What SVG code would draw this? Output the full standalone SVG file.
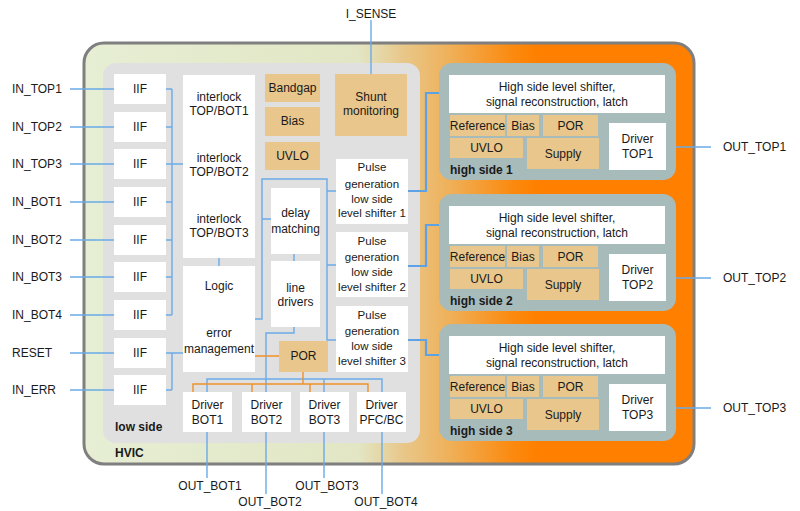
<svg xmlns="http://www.w3.org/2000/svg" width="800" height="511" viewBox="0 0 800 511">
<defs>
<linearGradient id="hvicGrad" x1="83" y1="0" x2="695" y2="0" gradientUnits="userSpaceOnUse">
<stop offset="0" stop-color="#e6eed4"/>
<stop offset="0.45" stop-color="#e2e6c4"/>
<stop offset="0.52" stop-color="#e8c88c"/>
<stop offset="0.6" stop-color="#efb058"/>
<stop offset="0.7" stop-color="#fb8a10"/>
<stop offset="0.74" stop-color="#ff8000"/>
<stop offset="1" stop-color="#ff8000"/>
</linearGradient>
<g id="hs">
<rect class="hsp" x="0" y="0" width="237" height="117" rx="13"/>
<rect class="wb" x="10" y="12" width="216" height="38"/>
<rect class="tan" x="11" y="52" width="55" height="21"/>
<rect class="tan" x="68" y="52" width="32" height="21"/>
<rect class="tan" x="104" y="52" width="55" height="21"/>
<rect class="tan" x="11" y="75" width="73" height="20"/>
<rect class="tan" x="88" y="75" width="72" height="31"/>
<rect class="wb" x="170" y="60" width="57" height="47"/>
<text class="t" x="118" y="28" font-size="11.5">High side level shifter,</text>
<text class="t" x="118" y="43" font-size="11.5">signal reconstruction, latch</text>
<text class="t" x="38.5" y="66.5" font-size="10">Reference</text>
<text class="t" x="84" y="67">Bias</text>
<text class="t" x="131.5" y="67">POR</text>
<text class="t" x="47.5" y="89">UVLO</text>
<text class="t" x="124" y="95">Supply</text>
</g>
</defs>
<style>
text{font-family:"Liberation Sans",Arial,sans-serif;font-size:12px;fill:#1a1a1a}
.t{text-anchor:middle}
.b{font-weight:bold}
.pg{font-size:11.5px}
.wb{fill:#ffffff}
.tan{fill:#e8c68c}
.hsp{fill:#a7bbbb}
.bl{fill:none;stroke:#6aaae8;stroke-width:1.4}
.bl2{fill:none;stroke:#5ea2e6;stroke-width:2.2}
.or{fill:none;stroke:#f0902a;stroke-width:1.4}
</style>
<rect width="800" height="511" fill="#ffffff"/>
<g id="hvic">
<rect x="84" y="43" width="610" height="421" rx="20" fill="url(#hvicGrad)" stroke="#7f7f7f" stroke-width="3"/>
<text class="b" x="115" y="457">HVIC</text>
</g>
<g id="lowside">
<rect x="103" y="63" width="317" height="380" rx="13" fill="#e0e0e0"/>
<text class="b" x="115" y="431">low side</text>
</g>
<g id="connectors">
<path class="bl" d="M70 89H114M70 127H114M70 164H114M70 202H114M70 240H114M70 277H114M70 315H114M70 353H114M70 390H114"/>
<path class="bl" d="M166 89H172M166 127H172M166 164H183M166 202H172M166 240H172M166 277H172M166 315H172M172 89V315"/>
<path class="bl" d="M166 353H183M166 390H172M172 353V390"/>
<path class="bl" d="M219 258V266"/>
<path class="bl" d="M255 319H262V179H327V340H336M327 191H336M327 265H336M262 219H271"/>
<path class="bl" d="M294 254V261"/>
<path class="bl" d="M294 327V333H266V392"/>
<path class="bl" d="M207 392V379H382V392M324 379V392"/>
<path class="bl" d="M207 432V478M266 432V494M324 432V478M382 432V494"/>
<path class="bl" d="M371 20V74"/>
<path class="or" d="M255 356H279M303 372V384M193 392V384H368V392M252 384V392M310 384V392"/>
<path class="bl2" d="M408 191H426V93H449M408 266H426V225H449M408 340H426V355H449"/>
<path class="bl" d="M666 147H711M666 278H711M666 408H711"/>
</g>
<g id="inputs">
<text x="12" y="93">IN_TOP1</text>
<text x="12" y="131">IN_TOP2</text>
<text x="12" y="168">IN_TOP3</text>
<text x="12" y="206">IN_BOT1</text>
<text x="12" y="244">IN_BOT2</text>
<text x="12" y="281">IN_BOT3</text>
<text x="12" y="319">IN_BOT4</text>
<text x="12" y="357">RESET</text>
<text x="12" y="394">IN_ERR</text>
</g>
<g id="iif">
<rect class="wb" x="114" y="74" width="52" height="30"/>
<rect class="wb" x="114" y="112" width="52" height="30"/>
<rect class="wb" x="114" y="149" width="52" height="30"/>
<rect class="wb" x="114" y="187" width="52" height="30"/>
<rect class="wb" x="114" y="225" width="52" height="30"/>
<rect class="wb" x="114" y="262" width="52" height="30"/>
<rect class="wb" x="114" y="300" width="52" height="30"/>
<rect class="wb" x="114" y="338" width="52" height="30"/>
<rect class="wb" x="114" y="375" width="52" height="30"/>
<text class="t" x="140" y="93">IIF</text>
<text class="t" x="140" y="131">IIF</text>
<text class="t" x="140" y="168">IIF</text>
<text class="t" x="140" y="206">IIF</text>
<text class="t" x="140" y="244">IIF</text>
<text class="t" x="140" y="281">IIF</text>
<text class="t" x="140" y="319">IIF</text>
<text class="t" x="140" y="357">IIF</text>
<text class="t" x="140" y="394">IIF</text>
</g>
<g id="interlock">
<rect class="wb" x="183" y="75" width="72" height="183"/>
<text class="t" x="219" y="101">interlock</text>
<text class="t" x="219" y="115">TOP/BOT1</text>
<text class="t" x="219" y="162">interlock</text>
<text class="t" x="219" y="176">TOP/BOT2</text>
<text class="t" x="219" y="223">interlock</text>
<text class="t" x="219" y="237">TOP/BOT3</text>
</g>
<g id="logic">
<rect class="wb" x="183" y="266" width="72" height="106"/>
<text class="t" x="219" y="290">Logic</text>
<text class="t" x="219" y="337">error</text>
<text class="t" x="219" y="353">management</text>
</g>
<g id="bandgap"><rect class="tan" x="265" y="74" width="55" height="28"/><text class="t" x="292.5" y="92">Bandgap</text></g>
<g id="bias"><rect class="tan" x="265" y="107" width="55" height="29"/><text class="t" x="292.5" y="125">Bias</text></g>
<g id="uvlo"><rect class="tan" x="265" y="142" width="55" height="28"/><text class="t" x="292.5" y="160">UVLO</text></g>
<g id="shunt"><rect class="tan" x="335" y="74" width="72" height="62"/><text class="t" x="371" y="101">Shunt</text><text class="t" x="371" y="115">monitoring</text></g>
<g id="isense"><text class="t" x="371" y="18">I_SENSE</text></g>
<g id="delay"><rect class="wb" x="271" y="188" width="49" height="66"/><text class="t" x="295.5" y="217">delay</text><text class="t" x="295.5" y="233">matching</text></g>
<g id="linedrv"><rect class="wb" x="271" y="261" width="49" height="66"/><text class="t" x="295.5" y="292" font-size="11">line</text><text class="t" x="295.5" y="306" font-size="11">drivers</text></g>
<g id="pg1"><rect class="wb" x="336" y="159" width="72" height="65"/><text class="t pg" x="372" y="171">Pulse</text><text class="t pg" x="372" y="188">generation</text><text class="t pg" x="372" y="203">low side</text><text class="t pg" x="372" y="217">level shifter 1</text></g>
<g id="pg2"><rect class="wb" x="336" y="232" width="72" height="65"/><text class="t pg" x="372" y="245">Pulse</text><text class="t pg" x="372" y="261">generation</text><text class="t pg" x="372" y="276">low side</text><text class="t pg" x="372" y="291">level shifter 2</text></g>
<g id="pg3"><rect class="wb" x="336" y="306" width="72" height="66"/><text class="t pg" x="372" y="319">Pulse</text><text class="t pg" x="372" y="335">generation</text><text class="t pg" x="372" y="350">low side</text><text class="t pg" x="372" y="365">level shifter 3</text></g>
<g id="por"><rect class="tan" x="279" y="341" width="49" height="31"/><text class="t" x="303.5" y="360">POR</text></g>
<g id="drvbot1"><rect class="wb" x="183" y="392" width="49" height="40"/><text class="t" x="207.5" y="409">Driver</text><text class="t" x="207.5" y="424">BOT1</text></g>
<g id="drvbot2"><rect class="wb" x="242" y="392" width="49" height="40"/><text class="t" x="266.5" y="409">Driver</text><text class="t" x="266.5" y="424">BOT2</text></g>
<g id="drvbot3"><rect class="wb" x="300" y="392" width="49" height="40"/><text class="t" x="324.5" y="409">Driver</text><text class="t" x="324.5" y="424">BOT3</text></g>
<g id="drvpfc"><rect class="wb" x="357" y="392" width="49" height="40"/><text class="t" x="381.5" y="409">Driver</text><text class="t" x="381.5" y="424">PFC/BC</text></g>
<g id="outbot">
<text class="t" x="210" y="490">OUT_BOT1</text>
<text class="t" x="270" y="506">OUT_BOT2</text>
<text class="t" x="327" y="490">OUT_BOT3</text>
<text class="t" x="386" y="506">OUT_BOT4</text>
</g>
<g id="hs1" transform="translate(439,63)">
<use href="#hs"/>
<text class="t" x="198.5" y="80">Driver</text><text class="t" x="198.5" y="95">TOP1</text>
<text class="b" x="11" y="111">high side 1</text>
</g>
<g id="hs2" transform="translate(439,194)">
<use href="#hs"/>
<text class="t" x="198.5" y="80">Driver</text><text class="t" x="198.5" y="95">TOP2</text>
<text class="b" x="11" y="111">high side 2</text>
</g>
<g id="hs3" transform="translate(439,324)">
<use href="#hs"/>
<text class="t" x="198.5" y="80">Driver</text><text class="t" x="198.5" y="95">TOP3</text>
<text class="b" x="11" y="111">high side 3</text>
</g>
<g id="outtop">
<text x="723" y="151">OUT_TOP1</text>
<text x="723" y="282">OUT_TOP2</text>
<text x="723" y="412">OUT_TOP3</text>
</g>
</svg>
